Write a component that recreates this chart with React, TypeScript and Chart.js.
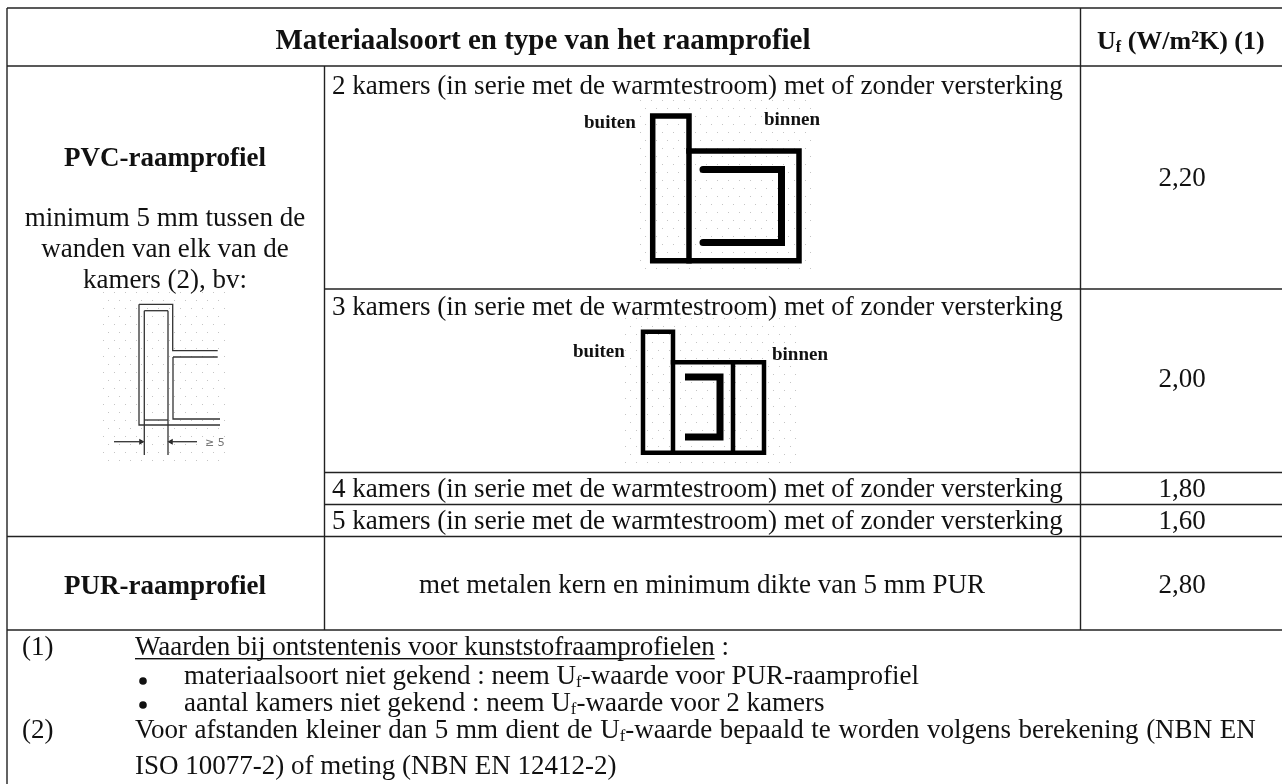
import React, { useEffect, useRef } from "react";
import { Chart, registerables } from "chart.js";

Chart.register(...registerables);

const WIDTH = 1282;
const HEIGHT = 784;
const SERIF = '"Liberation Serif", "Times New Roman", serif';
const BODY = 27;
const BOLD = 27;

// Table content
const headerTitle = "Materiaalsoort en type van het raamprofiel";
const pvcTitle = "PVC-raamprofiel";
const pvcNotes = ["minimum 5 mm tussen de", "wanden van elk van de", "kamers (2), bv:"];
const purTitle = "PUR-raamprofiel";
const purNote = "met metalen kern en minimum dikte van 5 mm PUR";
const chamberRows = [
  "2 kamers (in serie met de warmtestroom) met of zonder versterking",
  "3 kamers (in serie met de warmtestroom) met of zonder versterking",
  "4 kamers (in serie met de warmtestroom) met of zonder versterking",
  "5 kamers (in serie met de warmtestroom) met of zonder versterking",
];
const ufValues = [2.2, 2.0, 1.8, 1.6, 2.8];
const footnoteMarks = ["(1)", "(2)"];
const footnoteHead = "Waarden bij ontstentenis voor kunststofraamprofielen";
const footnoteBullets = [
  ["materiaalsoort niet gekend : neem U", "-waarde voor PUR-raamprofiel"],
  ["aantal kamers niet gekend : neem U", "-waarde voor 2 kamers"],
];
const footnoteTwo = [
  ["Voor afstanden kleiner dan 5 mm dient de U", "-waarde bepaald te worden volgens berekening (NBN EN"],
  ["ISO 10077-2) of meting (NBN EN 12412-2)"],
];

// Table grid, in axis units
const colEdges = [7, 324.5, 1080.5, 1282];
const rowEdges = [8, 66, 289, 472.5, 504.5, 536.5, 630, 784];

type P = { x: number; y: number };
const pts = (...a: number[][]): P[] => a.map(([x, y]) => ({ x, y }));

const [c0, c1, c2, c3] = colEdges;
const [r0, r1, r2, r3, r4, r5, r6, r7] = rowEdges;
const gridLines: P[][] = [
  pts([c0, r0], [c3, r0]),
  pts([c0, r1], [c3, r1]),
  pts([c1, r2], [c3, r2]),
  pts([c1, r3], [c3, r3]),
  pts([c1, r4], [c3, r4]),
  pts([c0, r5], [c3, r5]),
  pts([c0, r6], [c3, r6]),
  pts([c0, r0], [c0, r7]),
  pts([c1, r1], [c1, r6]),
  pts([c2, r0], [c2, r6]),
];

// Profile sketches
const sketchTwoWalls = [
  pts([652.7, 116], [689, 116], [689, 260.7], [652.7, 260.7], [652.7, 116]),
  pts([689, 151], [799, 151], [799, 260.7], [689, 260.7]),
];
const sketchTwoCore = [pts([703, 169.5], [781.5, 169.5], [781.5, 242.5], [703, 242.5])];
const sketchThreeWalls = [
  pts([643, 331.7], [673, 331.7], [673, 452.7], [643, 452.7], [643, 331.7]),
  pts([673, 362.3], [764, 362.3], [764, 452.7], [673, 452.7]),
  pts([733, 362.3], [733, 452.7]),
];
const sketchThreeCore = [pts([685, 377], [720, 377], [720, 437], [685, 437])];
const sketchPvc = [
  pts([139, 304.3], [172.7, 304.3], [172.7, 350.7], [217.7, 350.7]),
  pts([139, 304.3], [139, 425], [220, 425]),
  pts([173, 357], [217.7, 357]),
  pts([173, 357], [173, 419], [220, 419]),
  pts([144.3, 310.7], [168, 310.7]),
  pts([144.3, 310.7], [144.3, 455]),
  pts([168, 310.7], [168, 455]),
  pts([144.3, 420], [168, 420]),
  pts([114, 441.7], [143, 441.7]),
  pts([197, 441.7], [169, 441.7]),
];
const arrowTips = [
  { x: 141, y: 441.7, rotation: 90 },
  { x: 171, y: 441.7, rotation: -90 },
];
const dotFields = [
  [640, 100, 815, 275],
  [625, 318, 795, 465],
  [103, 292, 228, 462],
];

const line = (data: P[], color: string, width: number, cap: CanvasLineCap = "butt") => ({
  type: "line" as const,
  data,
  showLine: true,
  borderColor: color,
  borderWidth: width,
  borderCapStyle: cap,
  borderJoinStyle: "miter" as CanvasLineJoin,
  pointRadius: 0,
  tension: 0,
  fill: false,
});

const tablePlugin = {
  id: "tableText",
  beforeDatasetsDraw(chart: any) {
    const { ctx, scales } = chart;
    const X = (v: number) => scales.x.getPixelForValue(v);
    const Y = (v: number) => scales.y.getPixelForValue(v);
    ctx.save();
    ctx.fillStyle = "#c4c4c4";
    for (const [x0, y0, x1, y1] of dotFields) {
      let row = 0;
      for (let y = y0; y <= y1; y += 8) {
        for (let x = x0 + (row % 2) * 5; x <= x1; x += 11) {
          ctx.fillRect(Math.round(X(x)), Math.round(Y(y)), 1, 1);
        }
        row++;
      }
    }
    ctx.restore();
  },
  afterDatasetsDraw(chart: any) {
    const { ctx, scales } = chart;
    const X = (v: number) => scales.x.getPixelForValue(v);
    const Y = (v: number) => scales.y.getPixelForValue(v);
    ctx.save();
    ctx.fillStyle = "#111";
    ctx.textBaseline = "alphabetic";
    const text = (s: string, x: number, y: number, align: CanvasTextAlign = "left", size = BODY, bold = false) => {
      ctx.font = `${bold ? "bold " : ""}${size}px ${SERIF}`;
      ctx.textAlign = align;
      ctx.fillText(s, X(x), Y(y));
    };
    // Text with a small subscript f between two parts
    const subText = (parts: string[], x: number, y: number, size = BODY, bold = false) => {
      ctx.textAlign = "left";
      ctx.font = `${bold ? "bold " : ""}${size}px ${SERIF}`;
      let px = X(x);
      ctx.fillText(parts[0], px, Y(y));
      px += ctx.measureText(parts[0]).width;
      if (parts.length > 1) {
        ctx.font = `${bold ? "bold " : ""}${size * 0.62}px ${SERIF}`;
        ctx.fillText("f", px, Y(y + 3));
        px += ctx.measureText("f").width;
        ctx.font = `${bold ? "bold " : ""}${size}px ${SERIF}`;
        ctx.fillText(parts[1], px, Y(y));
      }
    };
    const uf = (v: number) => v.toFixed(2).replace(".", ",");

    text(headerTitle, 543, 49, "center", 29, true);
    subText(["U", " (W/m²K) (1)"], 1097, 49, 26, true);

    text(pvcTitle, 165, 166, "center", BOLD, true);
    pvcNotes.forEach((s, i) => text(s, 165, 226 + i * 31, "center"));
    text(purTitle, 165, 594, "center", BOLD, true);
    text(purNote, 702, 593, "center");

    [94, 315, 497, 529].forEach((y, i) => text(chamberRows[i], 332, y, "left", 27.08));
    [186, 387, 497, 529, 593].forEach((y, i) => text(uf(ufValues[i]), 1182, y, "center"));

    text("buiten", 584, 128, "left", 19, true);
    text("binnen", 764, 125, "left", 19, true);
    text("buiten", 573, 357, "left", 19, true);
    text("binnen", 772, 360, "left", 19, true);

    ctx.fillStyle = "#777";
    ctx.font = `11px "DejaVu Sans"`;
    ctx.textAlign = "left";
    ctx.fillText("≥ 5", X(205), Y(446));
    ctx.fillStyle = "#111";

    text(footnoteMarks[0], 22, 655);
    text(footnoteHead, 135, 655);
    const headW = ctx.measureText(footnoteHead).width;
    text(" :", 135 + headW, 655);
    ctx.fillRect(X(135), Y(658), headW, 1.4);

    footnoteBullets.forEach((parts, i) => {
      const y = [684, 711][i];
      ctx.beginPath();
      ctx.arc(X(143), Y([681, 705][i]), 3.8, 0, Math.PI * 2);
      ctx.fill();
      subText(parts, 184, y);
    });
    text(footnoteMarks[1], 22, 738);
    ctx.wordSpacing = "0.85px";
    subText(footnoteTwo[0], 135, 738);
    ctx.wordSpacing = "0px";
    subText(footnoteTwo[1], 135, 774);
    ctx.restore();
  },
};

export default function App() {
  const ref = useRef<HTMLCanvasElement>(null);
  useEffect(() => {
    if (!ref.current) return;
    const datasets: any[] = [
      ...gridLines.map((d) => line(d, "#222", 1.4)),
      ...sketchTwoWalls.map((d) => line(d, "#000", 5.5, "square")),
      ...sketchTwoCore.map((d) => line(d, "#000", 7, "round")),
      ...sketchThreeWalls.map((d) => line(d, "#000", 4.5, "square")),
      ...sketchThreeCore.map((d) => line(d, "#000", 7, "butt")),
      ...sketchPvc.map((d) => line(d, "#333", 1.3)),
      {
        type: "scatter",
        data: arrowTips.map(({ x, y }) => ({ x, y })),
        pointStyle: "triangle",
        pointRadius: 3.5,
        pointRotation: arrowTips.map((a) => a.rotation),
        backgroundColor: "#222",
        borderColor: "#222",
        borderWidth: 0,
        showLine: false,
      },
    ];
    const chart = new Chart(ref.current, {
      type: "scatter",
      data: { datasets },
      plugins: [tablePlugin],
      options: {
        animation: false,
        responsive: false,
        layout: { padding: 0, autoPadding: false },
        events: [],
        plugins: { legend: { display: false }, tooltip: { enabled: false }, title: { display: false } },
        scales: {
          x: { type: "linear", display: false, min: 0, max: WIDTH },
          y: { type: "linear", display: false, min: 0, max: HEIGHT, reverse: true },
        },
      },
    });
    return () => chart.destroy();
  }, []);
  return (
    <canvas
      ref={ref}
      width={WIDTH}
      height={HEIGHT}
      style={{ position: "fixed", left: 0, top: 0, width: WIDTH, height: HEIGHT, background: "#fff" }}
    />
  );
}
